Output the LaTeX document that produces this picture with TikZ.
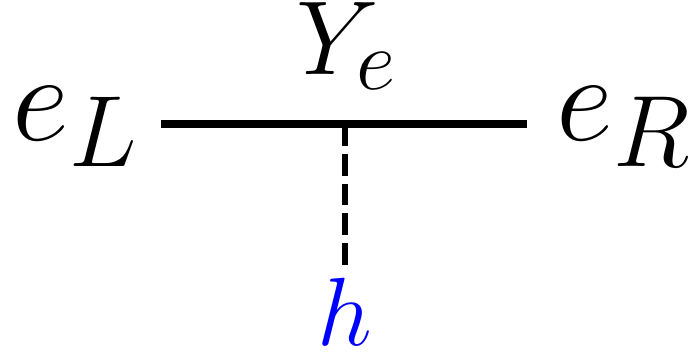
\RequirePackage{fix-cm}
\documentclass[tikz,border=0pt]{standalone}
\usepackage{amsmath,amssymb}
\usepackage{xcolor}
\definecolor{higgs}{RGB}{0, 0, 255}
\usepackage{tikz}
\usetikzlibrary{calc}
\DeclareMathSizes{32}{32}{26}{20}
\DeclareMathSizes{27}{27}{22}{16}
\tikzset{
    fermion/.style={line width=1.9pt},
    scalar/.style={line width=1.5pt, dash pattern=on 5.6pt off 2.05pt},
    biglabel/.style={inner sep=0pt, font=\fontsize{32}{38}\selectfont},
    coupling/.style={inner sep=0pt, font=\fontsize{27}{32}\selectfont},
}

\begin{document}
\begin{tikzpicture}[x=0.2565pt, y=-0.2565pt]
    \useasboundingbox (0, 0) rectangle (696, 355);

    % Vertex points
    \coordinate (VL) at (161, 124);
    \coordinate (VR) at (527, 124);
    \coordinate (Vtx) at (345, 124);
    \coordinate (HEnd) at (345, 273);

    % Fermion line
    \draw[fermion] (VL) -- (VR);

    % Scalar line
    \draw[scalar] (Vtx) -- (HEnd);

    % Labels
    \node[biglabel, anchor=base west] (eL) at (12, 140) {$e_L$};
    \node[biglabel, anchor=base west] (eR) at (556, 140) {$e_R$};
    \node[coupling, anchor=base] (Ye) at (347, 74) {$Y_e$};
    \node[anchor=base, inner sep=0pt, font=\Huge, higgs] (h) at (345, 345) {$h$};
\end{tikzpicture}
\end{document}
